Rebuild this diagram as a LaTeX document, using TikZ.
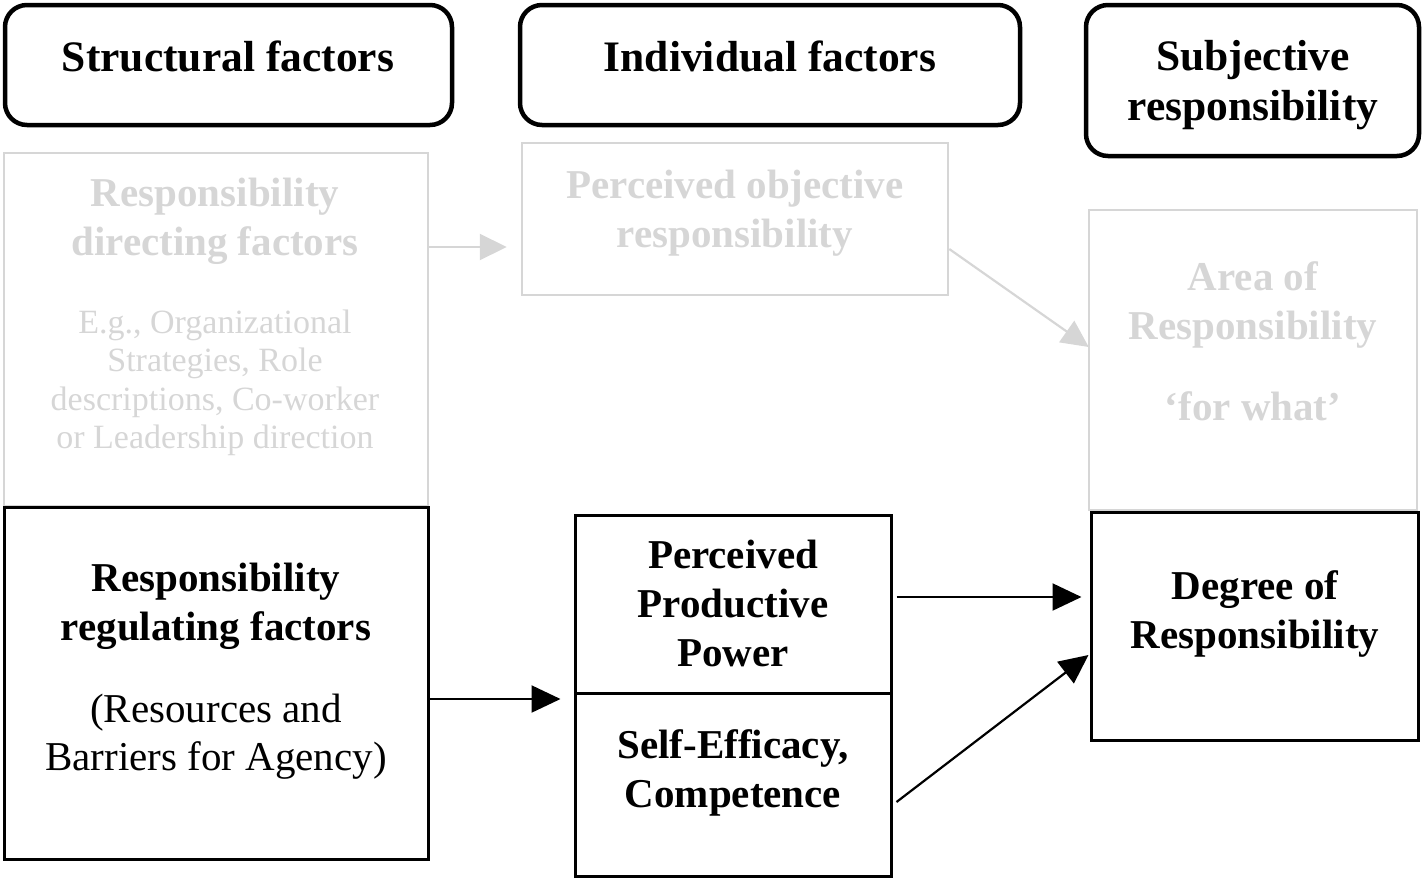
\documentclass[tikz,border=0pt]{standalone}
\usepackage{fontspec}
\setmainfont{Liberation Serif}
\usetikzlibrary{arrows.meta}
\definecolor{lg}{RGB}{214,214,214}
\newcommand{\mlines}[1]{\begin{tabular}[t]{@{}c@{}}#1\end{tabular}}
\begin{document}
\begin{tikzpicture}[x=1pt,y=-1pt,
 hdr/.style={draw, line width=4.5pt, rounded corners=22pt, inner sep=0pt},
 gbox/.style={draw=lg, line width=2.5pt, inner sep=0pt},
 bbox/.style={draw, line width=3pt, inner sep=0pt},
 txt/.style={anchor=base, inner sep=0pt},
 hfont/.style={font=\fontsize{43.5}{50}\selectfont\bfseries},
 bfont/.style={font=\fontsize{41}{49}\selectfont\bfseries},
 rfont/.style={font=\fontsize{41}{48}\selectfont},
 sfont/.style={font=\fontsize{34}{38.5}\selectfont},
 barrow/.style={line width=2.2pt, -{Triangle[length=29pt,width=27pt]}},
 garrow/.style={draw=lg, line width=2.2pt, -{Triangle[length=27pt,width=26pt]}}
]
\useasboundingbox (0,0) rectangle (1425,879);

% header boxes
\node[hdr, minimum width=447pt, minimum height=120pt] (hs) at (228.5,65) {};
\node[hdr, minimum width=500pt, minimum height=120pt] (hi) at (770,65) {};
\node[hdr, minimum width=333pt, minimum height=151pt] (hsub) at (1252.5,80.5) {};
\node[txt, hfont] (ths) at (228,71) {Structural factors};
\node[txt, hfont] (thi) at (770,71) {Individual factors};
\node[txt, hfont] (thsub) at (1253,70) {\mlines{Subjective\\responsibility}};

% grey boxes
\node[gbox, minimum width=424pt, minimum height=353pt] (dir) at (216,329.5) {};
\node[gbox, minimum width=426pt, minimum height=152pt] (obj) at (735,219) {};
\node[gbox, minimum width=328pt, minimum height=300pt] (area) at (1253,360) {};
\node[txt, bfont, text=lg] (tdir) at (215,206) {\mlines{Responsibility\\directing factors}};
\node[txt, sfont, text=lg] (tdir2) at (215,333) {\mlines{E.g., Organizational\\Strategies, Role\\descriptions, Co-worker\\or Leadership direction}};
\node[txt, bfont, text=lg] (tobj) at (735,198) {\mlines{Perceived objective\\responsibility}};
\node[txt, bfont, text=lg] (tarea) at (1253,290) {\mlines{Area of\\Responsibility}};
\node[txt, bfont, text=lg] (tarea2) at (1253,420) {‘for what’};

% black boxes
\node[bbox, minimum width=424pt, minimum height=352pt] (reg) at (216,683) {};
\node[bbox, minimum width=316pt, minimum height=178pt] (ppp) at (733,604) {};
\node[bbox, minimum width=316pt, minimum height=183pt] (sec) at (733,784.5) {};
\node[bbox, minimum width=327pt, minimum height=228pt] (deg) at (1254.5,626) {};
\node[txt, bfont] (treg) at (216,591) {\mlines{Responsibility\\regulating factors}};
\node[txt, rfont] (treg2) at (216,722) {\mlines{(Resources and\\Barriers for Agency)}};
\node[txt, bfont] (tppp) at (733,568) {\mlines{Perceived\\Productive\\Power}};
\node[txt, bfont] (tsec) at (733,758) {\mlines{Self-Efficacy,\\Competence}};
\node[txt, bfont] (tdeg) at (1255,599) {\mlines{Degree of\\Responsibility}};

% connectors
\draw[garrow] ([yshift=82.5pt]dir.east) -- ([xshift=-14pt,yshift=-28pt]obj.west);
\draw[garrow] ([yshift=-30pt]obj.east) -- ([xshift=1pt,yshift=13pt]area.west);
\draw[barrow] ([yshift=-16pt]reg.east) -- ([xshift=-13pt,yshift=85.5pt]sec.west);
\draw[barrow] ([xshift=4pt,yshift=7pt]ppp.east) -- ([xshift=-8pt,yshift=29pt]deg.west);
\draw[barrow] ([xshift=4pt,yshift=-17.5pt]sec.east) -- ([xshift=-1pt,yshift=-29pt]deg.west);
\end{tikzpicture}
\end{document}
